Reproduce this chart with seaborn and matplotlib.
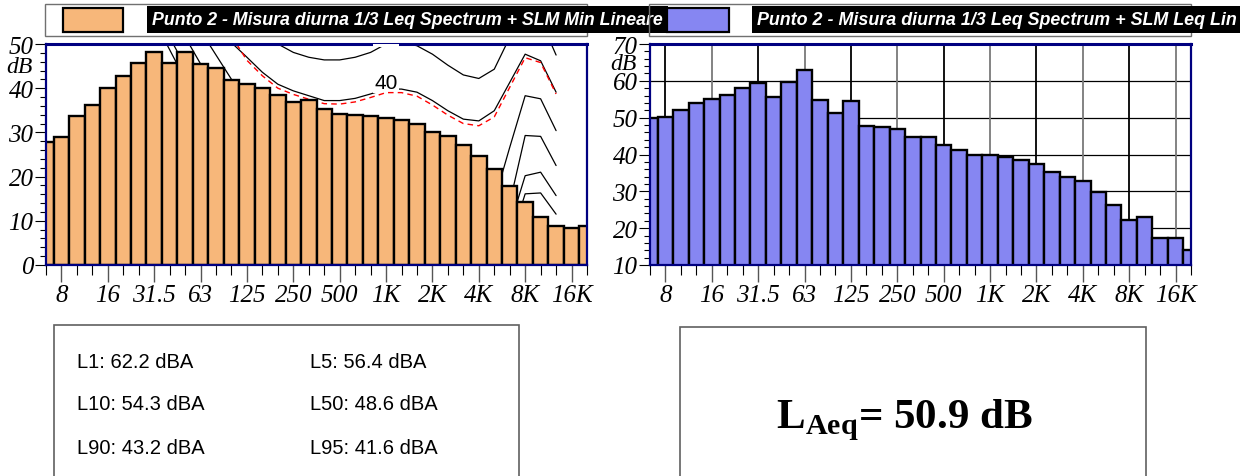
import matplotlib
matplotlib.use("Agg")
from matplotlib import pyplot as plt
from matplotlib import font_manager
from matplotlib.patches import Rectangle
from matplotlib.ticker import MultipleLocator
import pandas as pd
import seaborn as sns

### 1/3 octave bands, 6.3 Hz .. 20 kHz
bands = ["6.3", "8", "10", "12.5", "16", "20", "25", "31.5", "40", "50", "63", "80",
         "100", "125", "160", "200", "250", "315", "400", "500", "630", "800", "1K",
         "1.25K", "1.6K", "2K", "2.5K", "3.15K", "4K", "5K", "6.3K", "8K", "10K",
         "12.5K", "16K", "20K"]
octave_labels = ["8", "16", "31.5", "63", "125", "250", "500", "1K", "2K", "4K", "8K", "16K"]

min_lineare = [27.9, 29.0, 33.8, 36.2, 40.1, 42.7, 45.8, 48.1, 45.8, 48.1, 45.5, 44.6,
               41.8, 41.0, 40.1, 38.5, 36.8, 37.4, 35.3, 34.2, 34.0, 33.6, 33.3,
               32.7, 32.0, 30.2, 29.2, 27.1, 24.7, 21.7, 17.8, 14.2, 10.9, 8.9, 8.3, 8.8]
leq_lin = [49.8, 50.2, 52.2, 54.1, 55.0, 56.1, 58.1, 59.4, 55.7, 59.6, 62.9, 54.9,
           51.3, 54.5, 47.7, 47.5, 46.9, 44.7, 44.8, 42.5, 41.1, 40.0, 40.0,
           39.4, 38.6, 37.4, 35.2, 34.0, 32.8, 29.7, 26.2, 22.3, 22.9, 17.4, 17.4, 14.2]

### equal loudness curves (first band index, levels up to 12.5 kHz)
phon_0 = (7, [55.4, 48.7, 42, 36, 30, 25, 21, 17, 14, 11, 8.6, 6.2, 4.4, 3, 2.2, 2.4,
              3.5, 1.7, -1.3, -4.2, -6, -5.4, -1.5, 5, 16.1, 16.3, 11.5])
phon_10 = (8, [51.5, 45, 39, 33.5, 29, 25.5, 22.5, 20, 18, 16, 14, 12.5, 11.5, 10.5,
               10, 10.5, 9, 6.5, 4, 2.5, 3, 5.5, 8.8, 20.2, 21.0, 15.7])
phon_20 = (9, [51.6, 45.5, 40, 35, 31.5, 28.5, 26.5, 25, 23.5, 22.5, 21.5, 21, 20.5,
               20, 20.5, 19.5, 17, 14.5, 13, 13, 15, 14, 29.3, 29.1, 22.5])
phon_30 = (10, [53, 47.5, 42, 38, 35, 33, 31, 29.5, 28.5, 28, 28, 28.5, 29.5, 30,
                29.5, 28, 26, 24, 22, 14.5, 26.6, 38.3, 37.6, 30.4])
phon_40 = (11, [54, 50.3, 47.0, 43.6, 40.9, 39.4, 38.3, 37.2, 37.2, 37.7, 38.7, 39.8,
                39.8, 39.1, 37.2, 34.9, 33.0, 32.6, 34.9, 41.3, 47.7, 46.2, 39.1])
phon_50 = (13, [54, 52, 50.0, 48.1, 47.0, 46.4, 46.4, 47.0, 48.1, 50.0, 50.4, 49.6,
                47.7, 45.2, 43.0, 42.2, 44.3, 51.5, 57.0, 55.5, 47.5])
red_limit = (12, [51.8, 46.3, 42.8, 40.0, 38.6, 37.5, 36.5, 36.4, 36.9, 37.9, 39.0, 39.0,
                  38.2, 36.2, 33.9, 32.0, 31.5, 33.5, 40.2, 46.9, 45.8, 38.7])

stats_left = ["L1: 62.2 dBA", "L10: 54.3 dBA", "L90: 43.2 dBA"]
stats_right = ["L5: 56.4 dBA", "L50: 48.6 dBA", "L95: 41.6 dBA"]
laeq = "50.9"
title_min = "Punto 2 - Misura diurna 1/3 Leq Spectrum + SLM Min Lineare"
title_leq = "Punto 2 - Misura diurna 1/3 Leq Spectrum + SLM Leq Lin"

ORANGE = "#F7B77A"
BLUE = "#8686F2"
NAVY = "#000080"

sns.set_style("white")
plt.rcParams["font.family"] = ["Liberation Serif", "DejaVu Serif"]
for key in ["text.color", "axes.labelcolor", "xtick.color", "ytick.color"]:
    plt.rcParams[key] = "black"
plt.rcParams["mathtext.fontset"] = "custom"
plt.rcParams["mathtext.rm"] = "Liberation Serif"
plt.rcParams["mathtext.bf"] = "Liberation Serif:bold"

names = {f.name for f in font_manager.fontManager.ttflist}
narrow = "Liberation Sans Narrow" if "Liberation Sans Narrow" in names else "Liberation Sans"

W, H = 1240, 477
fig = plt.figure(figsize=(W / 100, H / 100), dpi=100)
fig.patch.set_facecolor("white")


def px(x0, y0, x1, y1):
    return [x0 / W, 1 - y1 / H, (x1 - x0) / W, (y1 - y0) / H]


def frame(x0, y0, x1, y1, **kw):
    r = Rectangle((x0 / W, 1 - y1 / H), (x1 - x0) / W, (y1 - y0) / H,
                  transform=fig.transFigure, **kw)
    fig.add_artist(r)
    return r


def fit(t, target):
    # scale font so the text spans the measured width
    w = t.get_window_extent(renderer=fig.canvas.get_renderer()).width
    t.set_fontsize(t.get_fontsize() * target / w)


ax1 = fig.add_axes(px(46, 45, 587, 266))
ax2 = fig.add_axes(px(650, 45, 1191, 266))

df = pd.DataFrame({"band": bands, "min_lin": min_lineare, "leq_lin": leq_lin})

sns.barplot(data=df, x="band", y="min_lin", order=bands, color=ORANGE, saturation=1,
            width=1, edgecolor="black", linewidth=1.7, errorbar=None, ax=ax1, zorder=3)
sns.barplot(data=df, x="band", y="leq_lin", order=bands, color=BLUE, saturation=1,
            width=1, edgecolor="black", linewidth=1.7, errorbar=None, ax=ax2, zorder=3)

### loudness curves behind the bars
for start, vals in [phon_0, phon_10, phon_20, phon_30, phon_40, phon_50]:
    ax1.plot(range(start, start + len(vals)), vals, color="black", lw=0.9, zorder=2)
ax1.plot(range(red_limit[0], red_limit[0] + len(red_limit[1])), red_limit[1],
         color="red", lw=1.0, ls=(0, (4, 3)), zorder=2.7)
ax1.text(22, 41.3, "40", ha="center", va="center", fontsize=15, family="Liberation Sans",
         bbox=dict(boxstyle="square,pad=0.05", fc="white", ec="none"), zorder=2.5)
ax1.text(22, 51.6, "50", ha="center", va="center", fontsize=15, family="Liberation Sans",
         bbox=dict(boxstyle="square,pad=0.05", fc="white", ec="none"), zorder=5, clip_on=True)

### right panel grid
ax2.set_axisbelow(True)
ax2.grid(axis="y", which="major", color="black", lw=0.9)
for k, pos in enumerate(range(1, 35, 3)):
    ax2.axvline(pos, color="black" if k % 2 == 0 else "#7a7a7a", lw=1.3, zorder=1)

for ax, lo, hi, dby in [(ax1, 0, 50, 45), (ax2, 10, 70, 64.6)]:
    ax.set_xlim(0, 35)
    ax.set_ylim(lo, hi)
    ax.set_xlabel("")
    ax.set_ylabel("")
    ax.set_xticks(list(range(1, 35, 3)), octave_labels)
    ax.set_xticks(list(range(36)), minor=True)
    ax.yaxis.set_major_locator(MultipleLocator(10))
    ax.yaxis.set_minor_locator(MultipleLocator(2))
    ax.tick_params(which="both", bottom=True, left=True, direction="out")
    ax.tick_params(axis="x", which="major", length=12, width=1.0, color="#555555",
                   pad=2, labelsize=18)
    ax.tick_params(axis="x", which="minor", length=7, width=0.8, color="black")
    ax.tick_params(axis="y", which="major", length=8, width=0.8, color="black",
                   pad=1, labelsize=18)
    ax.tick_params(axis="y", which="minor", length=4.5, width=0.8, color="black")
    for lbl in ax.get_xticklabels() + ax.get_yticklabels():
        lbl.set_fontstyle("italic")
    for name, s in ax.spines.items():
        s.set_visible(True)
        s.set_color(NAVY)
        s.set_linewidth(2.2 if name == "top" else 1.6)
        s.set_zorder(4)
    ax.annotate("dB", xy=(0, dby), xycoords=ax.get_yaxis_transform(), xytext=(-9.4, 0),
                textcoords="offset points", ha="right", va="center", fontsize=17,
                fontstyle="italic")

### legends on top
frame(45, 5, 587, 37, fill=False, ec="#707070", lw=1, zorder=1)
frame(63, 9, 123, 33, fc=ORANGE, ec="black", lw=1.6, zorder=1)
t1 = fig.text(152 / W, 1 - 20.5 / H, title_min, color="white", fontsize=14,
              family=narrow, fontweight="bold", fontstyle="italic", ha="left", va="center",
              bbox=dict(boxstyle="square,pad=0.3", fc="black", ec="none"), zorder=3)
fit(t1, 512)
frame(649, 5, 1191, 37, fill=False, ec="#707070", lw=1, zorder=4)
frame(667, 9, 729, 33, fc=BLUE, ec="black", lw=1.6, zorder=4)
t2 = fig.text(757 / W, 1 - 20.5 / H, title_leq, color="white", fontsize=t1.get_fontsize(),
              family=narrow, fontweight="bold", fontstyle="italic", ha="left", va="center",
              bbox=dict(boxstyle="square,pad=0.3", fc="black", ec="none"), zorder=5)
fit(t2, 478)

### statistics boxes
frame(54, 326, 519, 490, fill=False, ec="#606060", lw=1.2)
frame(680, 328, 1146, 490, fill=False, ec="#606060", lw=1.2)
for k, (a, b) in enumerate(zip(stats_left, stats_right)):
    y = 1 - (362 + 43 * k) / H
    fig.text(77 / W, y, a, family=narrow, fontsize=14.5, ha="left", va="center")
    fig.text(310 / W, y, b, family=narrow, fontsize=14.5, ha="left", va="center")

fig.text(904 / W, 1 - 428 / H, r"$\mathbf{L}_{\mathbf{Aeq}}$= " + laeq + " dB",
         fontsize=31, fontweight="bold", ha="center", va="baseline")

fig.savefig("out.png", dpi=100)
